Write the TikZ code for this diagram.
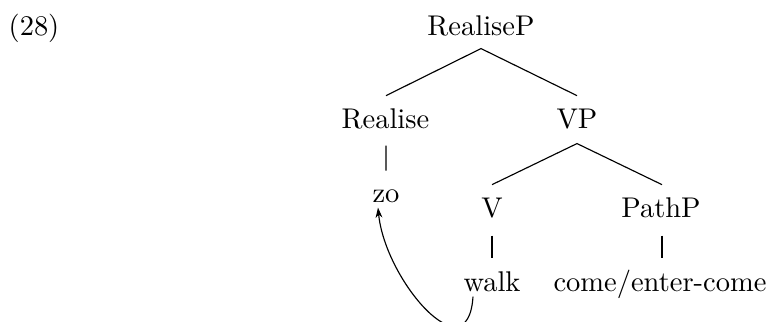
\documentclass[tikz,border=0pt]{standalone}
\usetikzlibrary{calc,arrows.meta}
\begin{document}
\begin{tikzpicture}[x=0.3509pt,y=-0.3509pt,
  lbl/.style={inner sep=0pt,anchor=base,text height=6.94pt,text depth=0pt},
  br/.style={line width=0.4pt},
  mv/.style={line width=0.4pt,-{Stealth[length=3.6pt,width=2.4pt]}}]
\useasboundingbox (0,0) rectangle (771,322);
\node[lbl] (ex) at (34,35) {(28)};
\node[lbl] (rp) at (481,35) {RealiseP};
\node[lbl] (re) at (385.5,128) {Realise};
\node[lbl] (vp) at (577,128) {VP};
\node[lbl] (zo) at (386,202) {zo};
\node[lbl] (v) at (492,217) {V};
\node[lbl] (pp) at (661,217) {PathP};
\node[lbl] (walk) at (492,291) {walk};
\node[lbl] (cec) at (660,291) {come/enter-come};
% branches
\draw[br] ($(re.north)+(0.5,-12)$) -- ($(rp.south)+(0,13)$) -- ($(vp.north)+(0,-12)$);
\draw[br] ($(v.north)+(0,-12)$) -- ($(vp.south)+(0,15)$) -- ($(pp.north)+(1,-12)$);
\draw[br] ($(re.south)+(0.5,17)$) -- ($(zo.north)+(0,-11)$);
\draw[br] ($(v.south)+(0,18)$) -- ($(walk.north)+(0,-13)$);
\draw[br] ($(pp.south)+(1,18)$) -- ($(cec.north)+(2,-13)$);
% movement arrow
\draw[mv] ($(walk.south)+(-19,5)$) .. controls ($(walk.south)+(-24,84)$) and ($(zo.south)+(-1,78)$) .. ($(zo.south)+(-8,5)$);
\end{tikzpicture}
\end{document}
